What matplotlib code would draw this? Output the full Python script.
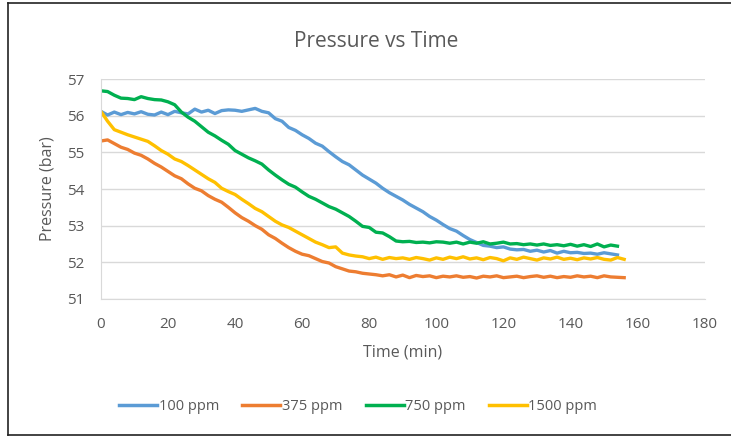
import matplotlib
matplotlib.use('Agg')
import matplotlib.pyplot as plt
from matplotlib.lines import Line2D
import numpy as np

plt.rcParams['font.family'] = ['Open Sans', 'DejaVu Sans']

# time axis (min), readings every 2 min
time_min = list(range(0, 158, 2))

p_100 = [56.12, 56.02, 56.10, 56.03, 56.09, 56.05, 56.11, 56.04, 56.02, 56.10,
         56.03, 56.12, 56.08, 56.05, 56.18, 56.10, 56.15, 56.06, 56.14, 56.16,
         56.15, 56.12, 56.16, 56.20, 56.12, 56.08, 55.92, 55.85, 55.68, 55.60,
         55.48, 55.38, 55.25, 55.17, 55.02, 54.88, 54.75, 54.66, 54.52, 54.38,
         54.27, 54.16, 54.02, 53.90, 53.80, 53.70, 53.58, 53.48, 53.38, 53.25,
         53.15, 53.03, 52.92, 52.85, 52.73, 52.62, 52.54, 52.46, 52.44, 52.40,
         52.42, 52.36, 52.34, 52.35, 52.30, 52.33, 52.28, 52.32, 52.25, 52.30,
         52.26, 52.27, 52.24, 52.25, 52.22, 52.26, 52.23, 52.20]

p_375 = [55.31, 55.34, 55.24, 55.14, 55.08, 54.98, 54.92, 54.82, 54.70, 54.60,
         54.48, 54.36, 54.28, 54.14, 54.02, 53.95, 53.82, 53.72, 53.64, 53.50,
         53.35, 53.22, 53.12, 53.00, 52.90, 52.75, 52.65, 52.52, 52.40, 52.30,
         52.22, 52.18, 52.10, 52.02, 51.98, 51.88, 51.82, 51.76, 51.74, 51.70,
         51.68, 51.66, 51.63, 51.66, 51.60, 51.65, 51.58, 51.64, 51.61, 51.63,
         51.58, 51.62, 51.60, 51.63, 51.59, 51.61, 51.57, 51.62, 51.60, 51.63,
         51.58, 51.60, 51.62, 51.58, 51.61, 51.63, 51.59, 51.62, 51.58, 51.61,
         51.59, 51.63, 51.60, 51.62, 51.58, 51.63, 51.60, 51.59, 51.58]

p_750 = [56.68, 56.66, 56.56, 56.48, 56.47, 56.44, 56.52, 56.47, 56.44, 56.43,
         56.38, 56.30, 56.10, 55.96, 55.85, 55.70, 55.55, 55.45, 55.33, 55.22,
         55.05, 54.95, 54.85, 54.77, 54.68, 54.52, 54.38, 54.25, 54.13, 54.05,
         53.92, 53.80, 53.72, 53.62, 53.52, 53.45, 53.35, 53.25, 53.12, 52.98,
         52.95, 52.82, 52.80, 52.70, 52.58, 52.56, 52.57, 52.54, 52.55, 52.53,
         52.56, 52.55, 52.52, 52.55, 52.50, 52.55, 52.52, 52.56, 52.50, 52.52,
         52.55, 52.50, 52.51, 52.48, 52.50, 52.47, 52.50, 52.46, 52.48, 52.45,
         52.49, 52.44, 52.48, 52.43, 52.50, 52.42, 52.47, 52.44]

p_1500 = [56.12, 55.85, 55.62, 55.55, 55.48, 55.42, 55.36, 55.30, 55.18, 55.05,
          54.95, 54.82, 54.75, 54.64, 54.52, 54.40, 54.28, 54.18, 54.02, 53.93,
          53.85, 53.72, 53.60, 53.47, 53.38, 53.25, 53.12, 53.02, 52.95, 52.85,
          52.75, 52.65, 52.55, 52.48, 52.40, 52.42, 52.25, 52.20, 52.17, 52.15,
          52.10, 52.14, 52.08, 52.13, 52.10, 52.12, 52.08, 52.13, 52.10, 52.06,
          52.12, 52.08, 52.14, 52.10, 52.15, 52.09, 52.12, 52.07, 52.13, 52.10,
          52.04, 52.12, 52.08, 52.14, 52.10, 52.06, 52.12, 52.09, 52.14, 52.08,
          52.11, 52.07, 52.12, 52.09, 52.13, 52.08, 52.06, 52.13, 52.08]

series = [
    ('100 ppm', p_100, '#5B9BD5'),
    ('375 ppm', p_375, '#ED7D31'),
    ('750 ppm', p_750, '#00B050'),
    ('1500 ppm', p_1500, '#FFC000'),
]

txt = '#595959'
fig = plt.figure(figsize=(7.31, 4.37), dpi=100)
ax = fig.add_axes([0.138, 0.316, 0.826, 0.503])

for name, vals, col in series:
    ax.plot(time_min[:len(vals)], vals, color=col, linewidth=2.4, label=name)

ax.set_xlim(0, 180)
ax.set_ylim(51, 57)
ax.set_xticks(np.arange(0, 181, 20))
ax.set_yticks(np.arange(51, 58, 1))
ax.grid(axis='y', color='#d9d9d9', linewidth=1)
ax.set_axisbelow(True)
ax.tick_params(length=0, labelsize=11, labelcolor=txt)
ax.tick_params(axis='x', pad=13)
ax.tick_params(axis='y', pad=12)
for s in ['top', 'right']:
    ax.spines[s].set_visible(False)
for s in ['left', 'bottom']:
    ax.spines[s].set_color('#d9d9d9')

ax.set_xlabel('Time (min)', fontsize=11.5, color=txt, labelpad=9)
ax.set_ylabel('Pressure (bar)', fontsize=11.5, color=txt, labelpad=8)
fig.text(0.515, 0.905, 'Pressure vs Time', ha='center', va='center',
         fontsize=15, color=txt)

handles = [Line2D([], [], color=c, linewidth=2.5) for _, _, c in series]
fig.legend(handles, [n for n, _, _ in series], loc='center',
           bbox_to_anchor=(0.49, 0.07), ncol=4, frameon=False,
           fontsize=10.5, labelcolor=txt, handlelength=2.6,
           handletextpad=0.1, columnspacing=1.6)

# outer chart frame (open at right, like the screenshot)
fig.add_artist(Line2D([0.011, 0.011], [0.005, 0.993], transform=fig.transFigure,
                      color='#222222', linewidth=1.2))
fig.add_artist(Line2D([0.011, 1.0], [0.993, 0.993], transform=fig.transFigure,
                      color='#222222', linewidth=1.2))
fig.add_artist(Line2D([0.011, 1.0], [0.005, 0.005], transform=fig.transFigure,
                      color='#222222', linewidth=1.2))

fig.savefig('out.png', dpi=100)
